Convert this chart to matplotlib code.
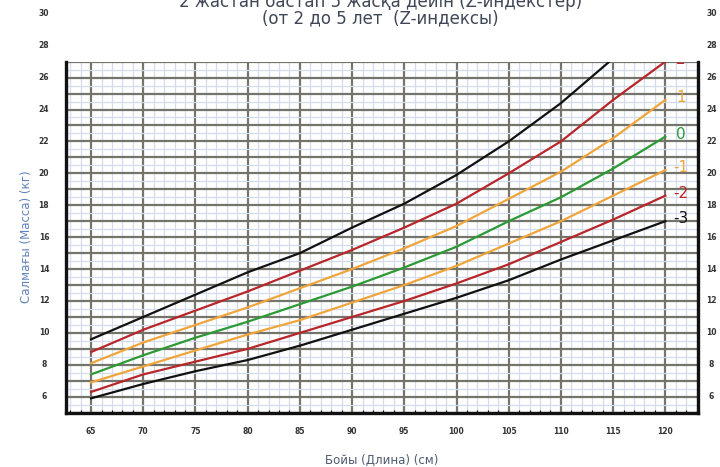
import matplotlib
matplotlib.use("Agg")
import matplotlib.pyplot as plt
from matplotlib.ticker import MultipleLocator

# рост (см) и вес (кг) по Z-индексам
heights = [65, 70, 75, 80, 85, 90, 95, 100, 105, 110, 115, 120]
z_m3 = [5.9, 6.8, 7.6, 8.3, 9.2, 10.2, 11.2, 12.2, 13.3, 14.6, 15.8, 17.0]
z_m2 = [6.3, 7.4, 8.2, 9.0, 10.0, 11.0, 12.0, 13.1, 14.3, 15.7, 17.1, 18.6]
z_m1 = [6.9, 7.9, 8.9, 9.9, 10.8, 11.9, 13.0, 14.2, 15.6, 17.0, 18.6, 20.2]
z_0 = [7.4, 8.6, 9.7, 10.7, 11.8, 12.9, 14.1, 15.4, 17.0, 18.5, 20.3, 22.3]
z_p1 = [8.1, 9.4, 10.5, 11.6, 12.8, 14.0, 15.3, 16.7, 18.4, 20.1, 22.2, 24.6]
z_p2 = [8.8, 10.2, 11.4, 12.6, 13.9, 15.2, 16.6, 18.1, 20.0, 22.0, 24.6, 27.0]
z_p3 = [9.6, 11.0, 12.4, 13.8, 15.0, 16.6, 18.1, 19.9, 22.0, 24.4, 27.2, 30.2]

curve_names = ["-3", "-2", "-1", "0", "1", "2", "3"]
curve_vals = [z_m3, z_m2, z_m1, z_0, z_p1, z_p2, z_p3]
curve_colors = ["#111111", "#b8262a", "#f0a53a", "#2b9a33", "#f0a53a", "#b8262a", "#111111"]

xtick_vals = list(range(65, 121, 5))
ytick_vals = list(range(6, 31, 2))

fig = plt.figure(figsize=(7.2, 4.67), dpi=100)
ax = fig.add_axes([0.0917, 0.1163, 0.8773, 0.7517])
ax.set_xlim(62.6, 123.1)
ax.set_ylim(5, 27)

# сетка: крупная и мелкая
ax.xaxis.set_major_locator(MultipleLocator(5))
ax.xaxis.set_minor_locator(MultipleLocator(1))
ax.yaxis.set_major_locator(MultipleLocator(1))
ax.yaxis.set_minor_locator(MultipleLocator(0.5))
ax.grid(which="minor", color="#d3dcec", linewidth=0.9)
ax.grid(which="major", color="#74746c", linewidth=1.6)
ax.set_axisbelow(True)

for name, vals, col in zip(curve_names, curve_vals, curve_colors):
    ax.plot(heights, vals, color=col, linewidth=1.6)
    if name != "3":
        ax.text(121.5, vals[-1] + 0.15, name, color=col, fontsize=11,
                ha="center", va="center", clip_on=True)

for side in ["left", "right", "bottom"]:
    ax.spines[side].set_linewidth(2.4)
    ax.spines[side].set_color("#111111")
ax.spines["top"].set_visible(False)

ax.set_xticks(xtick_vals)
ax.set_xticklabels([str(v) for v in xtick_vals], fontsize=5.5,
                   fontweight="bold", color="#333333")
ax.tick_params(axis="x", which="major", length=0, pad=10)
ax.tick_params(axis="x", which="minor", length=2, width=0.8, direction="in")
ax.tick_params(axis="y", which="both", length=0, labelleft=False)

# подписи веса по обеим сторонам, включая значения выше поля графика
ytr = ax.get_yaxis_transform()
for v in ytick_vals:
    ax.text(-0.035, v, str(v), transform=ytr, fontsize=5.5, fontweight="bold",
            color="#333333", ha="center", va="center", clip_on=False)
    ax.text(1.022, v, str(v), transform=ytr, fontsize=5.5, fontweight="bold",
            color="#333333", ha="center", va="center", clip_on=False)

ax.set_xlabel("Бойы (Длина) (см)", fontsize=8.5, color="#4f5b70", labelpad=13)
ax.set_ylabel("Салмағы (Масса) (кг)", fontsize=8.5, color="#6283bb", labelpad=24)

fig.text(0.528, 0.996, "2 жастан бастап 5 жасқа дейін (Z-индекстер)",
         fontsize=12, color="#3f4656", ha="center", va="center")
fig.text(0.528, 0.960, "(от 2 до 5 лет  (Z-индексы)",
         fontsize=12, color="#3f4656", ha="center", va="center")

fig.savefig("out.png", dpi=100)
